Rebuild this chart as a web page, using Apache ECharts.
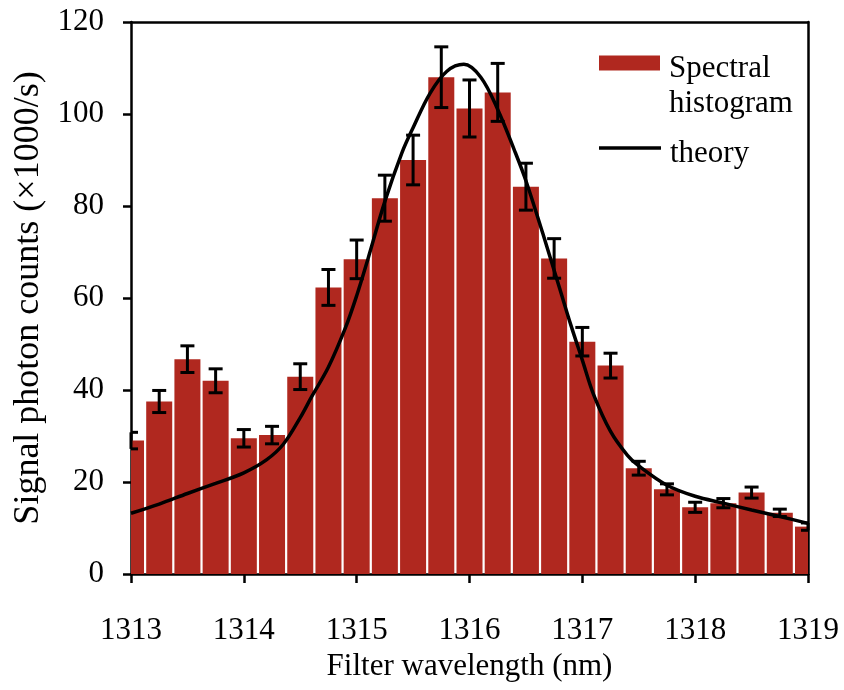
<!DOCTYPE html>
<html>
<head>
<meta charset="utf-8">
<script src="https://cdn.jsdelivr.net/npm/echarts@6/dist/echarts.min.js"></script>
<style>html,body{margin:0;padding:0;background:#fff}#c{width:844px;height:690px}</style>
</head>
<body>
<div id="c"></div>
<script>
const wavelengths = [1313, 1313.25, 1313.5, 1313.75, 1314, 1314.25, 1314.5, 1314.75, 1315, 1315.25, 1315.5, 1315.75, 1316, 1316.25, 1316.5, 1316.75, 1317, 1317.25, 1317.5, 1317.75, 1318, 1318.25, 1318.5, 1318.75, 1319];
const counts = [29.0, 37.5, 46.7, 42.0, 29.5, 30.2, 42.9, 62.3, 68.4, 81.7, 90.0, 108.0, 101.2, 104.7, 84.2, 68.6, 50.5, 45.3, 23.0, 18.4, 14.5, 15.4, 17.7, 13.3, 10.3];
const errors = [1.8, 2.4, 2.9, 2.6, 1.9, 1.9, 2.8, 3.9, 4.2, 5.0, 5.4, 6.6, 6.2, 6.3, 5.1, 4.3, 3.1, 2.7, 1.5, 1.2, 1.1, 1.0, 1.2, 0.8, 0.8];
const theoryX = [1313.0, 1313.25, 1313.5, 1313.75, 1314.0, 1314.2, 1314.35, 1314.5, 1314.6, 1314.75, 1314.9, 1315.0, 1315.1, 1315.25, 1315.4, 1315.5, 1315.65, 1315.8, 1315.95, 1316.1, 1316.25, 1316.4, 1316.5, 1316.65, 1316.8, 1316.9, 1317.0, 1317.1, 1317.25, 1317.4, 1317.5, 1317.75, 1318.0, 1318.25, 1318.5, 1318.75, 1319.0];
const theoryY = [13.2, 15.2, 17.5, 19.7, 22.0, 24.8, 28.2, 34.0, 38.5, 45.0, 53.5, 60.5, 68.5, 81.0, 91.5, 97.0, 104.5, 109.3, 110.8, 108.0, 101.0, 92.0, 85.5, 74.0, 62.0, 54.0, 46.5, 39.0, 31.0, 25.8, 23.5, 19.3, 16.9, 15.4, 13.9, 12.5, 11.0];
const yTicks = [0, 20, 40, 60, 80, 100, 120];
const xTicks = [1313, 1314, 1315, 1316, 1317, 1318, 1319];
const binWidth = 0.25;

const FONT = '"Liberation Serif", "Times New Roman", serif';
const BAR_COLOR = '#b0281f';
const chart = echarts.init(document.getElementById('c'));

const barData = wavelengths.map((w, i) => [w, counts[i]]);
const errData = wavelengths.map((w, i) => [w, counts[i] - errors[i], counts[i] + errors[i]]);
const lineData = theoryX.map((x, i) => [x, theoryY[i]]);

function clipBox(params) {
  const cs = params.coordSys;
  return { x: cs.x, y: cs.y, width: cs.width, height: cs.height };
}

const legendText = { fontFamily: FONT, fontSize: 31, color: '#000' };

chart.setOption({
  animation: false,
  backgroundColor: '#fff',
  grid: { left: 131, right: 36, top: 22, bottom: 116 },
  legend: [
    {
      left: 594, top: 18, itemWidth: 61, itemHeight: 15,
      data: [{ name: 'Spectral histogram', icon: 'rect' }],
      formatter: () => '{e|}\n{a|Spectral}\n{a|histogram}',
      textStyle: {
        rich: {
          e: { lineHeight: 47, fontSize: 10 },
          a: Object.assign({ lineHeight: 35, padding: [0, 0, 0, 4] }, legendText)
        }
      }
    },
    {
      left: 594, top: 120, itemWidth: 62, itemHeight: 3.5,
      data: [{ name: 'theory', icon: 'rect' }],
      formatter: n => '{e|}\n{a|' + n + '}',
      textStyle: {
        rich: {
          e: { lineHeight: 12, fontSize: 10 },
          a: Object.assign({ lineHeight: 36, padding: [0, 0, 0, 4] }, legendText)
        }
      }
    }
  ],
  xAxis: [
    {
      type: 'value', min: xTicks[0], max: xTicks[xTicks.length - 1], interval: 1,
      name: 'Filter wavelength (nm)', nameLocation: 'middle', nameGap: 76,
      nameTextStyle: { fontFamily: FONT, fontSize: 31, color: '#000' },
      axisLine: { show: true, lineStyle: { color: '#000', width: 2.5 } },
      axisTick: { show: true, inside: false, length: 9, lineStyle: { color: '#000', width: 2.5 } },
      axisLabel: { fontFamily: FONT, fontSize: 31, color: '#000', margin: 41, formatter: v => String(v) },
      splitLine: { show: false }
    },
    {
      type: 'value', position: 'top', min: xTicks[0], max: xTicks[xTicks.length - 1],
      axisLine: { show: true, onZero: false, lineStyle: { color: '#000', width: 2.5 } },
      axisTick: { show: false }, axisLabel: { show: false }, splitLine: { show: false }
    }
  ],
  yAxis: [
    {
      type: 'value', min: yTicks[0], max: yTicks[yTicks.length - 1], interval: 20,
      name: 'Signal photon counts (×1000/s)', nameLocation: 'middle', nameGap: 83,
      nameTextStyle: { fontFamily: FONT, fontSize: 36, color: '#000' },
      axisLine: { show: true, lineStyle: { color: '#000', width: 2.5 } },
      axisTick: { show: true, inside: false, length: 8, lineStyle: { color: '#000', width: 2.5 } },
      axisLabel: { fontFamily: FONT, fontSize: 31, color: '#000', margin: 27 },
      splitLine: { show: false }
    },
    {
      type: 'value', position: 'right', min: 0, max: 120,
      axisLine: { show: true, onZero: false, lineStyle: { color: '#000', width: 2.5 } },
      axisTick: { show: false }, axisLabel: { show: false }, splitLine: { show: false }
    }
  ],
  series: [
    {
      name: 'Spectral histogram', type: 'custom', data: barData, z: 2,
      itemStyle: { color: BAR_COLOR },
      renderItem: function (params, api) {
        const x = api.value(0), y = api.value(1);
        const base = api.coord([x, 0]);
        const top = api.coord([x, y]);
        const bw = api.size([binWidth, 0])[0] - 2.2;
        const rect = echarts.graphic.clipRectByRect(
          { x: base[0] - bw / 2, y: top[1], width: bw, height: base[1] - top[1] },
          clipBox(params)
        );
        if (!rect) return null;
        return { type: 'rect', shape: rect, style: { fill: BAR_COLOR } };
      }
    },
    {
      name: 'errors', type: 'custom', data: errData, z: 4,
      renderItem: function (params, api) {
        const x = api.value(0);
        const lo = api.coord([x, api.value(1)]);
        const hi = api.coord([x, api.value(2)]);
        const cs = params.coordSys;
        const hw = 7;
        const l = Math.max(cs.x, lo[0] - hw), r = Math.min(cs.x + cs.width, lo[0] + hw);
        const st = { stroke: '#000', lineWidth: 3 };
        return {
          type: 'group',
          children: [
            { type: 'line', shape: { x1: lo[0], y1: lo[1], x2: hi[0], y2: hi[1] }, style: st },
            { type: 'line', shape: { x1: l, y1: lo[1], x2: r, y2: lo[1] }, style: st },
            { type: 'line', shape: { x1: l, y1: hi[1], x2: r, y2: hi[1] }, style: st }
          ]
        };
      }
    },
    {
      name: 'theory', type: 'line', data: lineData, smooth: 0.35, symbol: 'none', z: 5,
      lineStyle: { color: '#000', width: 3.5 }, itemStyle: { color: '#000' }
    }
  ]
});
</script>
</body>
</html>
